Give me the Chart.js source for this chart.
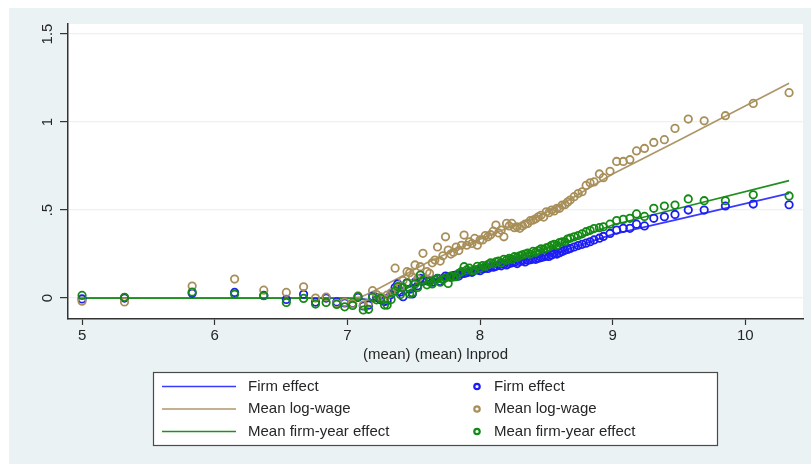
<!DOCTYPE html>
<html>
<head>
<meta charset="utf-8">
<script src="https://cdn.jsdelivr.net/npm/chart.js@4.4.1/dist/chart.umd.min.js"></script>
<style>
  html, body { margin: 0; padding: 0; background: #ffffff; }
  #wrap { width: 811px; height: 464px; position: relative; }
</style>
</head>
<body>
<div id="wrap"><canvas id="c" width="811" height="464"></canvas></div>
<script>
// Binned means by (mean) lnprod
const lnprod = [
  5.00, 5.32, 5.83, 6.15, 6.37, 6.54, 6.67, 6.76, 6.84, 6.92, 6.98, 7.04, 7.08,
  7.12, 7.16, 7.19, 7.22, 7.25, 7.28, 7.30, 7.33, 7.36, 7.38, 7.40, 7.42, 7.45,
  7.47, 7.49, 7.51, 7.53, 7.55, 7.57, 7.60, 7.62, 7.64, 7.66, 7.68, 7.70, 7.72,
  7.74, 7.76, 7.78, 7.80, 7.82, 7.84, 7.86, 7.88, 7.90, 7.92, 7.94, 7.96, 7.98,
  8.00, 8.02, 8.04, 8.06, 8.08, 8.10, 8.12, 8.14, 8.16, 8.18, 8.20, 8.22, 8.24,
  8.26, 8.28, 8.30, 8.32, 8.34, 8.36, 8.38, 8.40, 8.42, 8.44, 8.46, 8.48, 8.50,
  8.52, 8.54, 8.56, 8.58, 8.60, 8.62, 8.64, 8.66, 8.68, 8.71, 8.74, 8.77, 8.80,
  8.83, 8.86, 8.90, 8.93, 8.98, 9.03, 9.08, 9.13, 9.18, 9.24, 9.31, 9.39, 9.47,
  9.57, 9.69, 9.85, 10.06, 10.33
];
const firmEffect = [
  -0.005, 0.000, 0.027, 0.032, 0.015, -0.008, 0.022, -0.023, 0.000, -0.022, -0.028, -0.030, 0.004,
  -0.045, -0.040, 0.010, 0.004, -0.010, -0.020, -0.015, 0.020, 0.060, 0.080, 0.035, 0.008, 0.087,
  0.050, 0.023, 0.090, 0.070, 0.112, 0.095, 0.098, 0.100, 0.090, 0.105, 0.112, 0.095, 0.110,
  0.125, 0.121, 0.118, 0.128, 0.131, 0.125, 0.138, 0.140, 0.144, 0.150, 0.146, 0.159, 0.160,
  0.155, 0.165, 0.170, 0.168, 0.178, 0.175, 0.180, 0.188, 0.183, 0.192, 0.188, 0.196, 0.200,
  0.203, 0.196, 0.208, 0.212, 0.205, 0.215, 0.218, 0.222, 0.220, 0.226, 0.230, 0.234, 0.238,
  0.236, 0.245, 0.252, 0.250, 0.258, 0.265, 0.272, 0.276, 0.282, 0.290, 0.298, 0.305, 0.312,
  0.320, 0.330, 0.340, 0.350, 0.367, 0.386, 0.396, 0.396, 0.420, 0.410, 0.453, 0.462, 0.475,
  0.500, 0.500, 0.523, 0.534, 0.530
];
const meanLogWage = [
  -0.018, -0.022, 0.068, 0.108, 0.045, 0.032, 0.064, 0.000, 0.006, -0.030, -0.024, -0.032, 0.012,
  -0.040, -0.030, 0.042, 0.020, 0.007, -0.005, 0.017, 0.030, 0.170, 0.060, 0.064, 0.100, 0.150,
  0.144, 0.120, 0.188, 0.110, 0.178, 0.254, 0.150, 0.140, 0.200, 0.216, 0.290, 0.210, 0.240,
  0.348, 0.273, 0.250, 0.260, 0.290, 0.270, 0.300, 0.358, 0.300, 0.320, 0.310, 0.339, 0.300,
  0.330, 0.330, 0.355, 0.348, 0.360, 0.380, 0.415, 0.370, 0.386, 0.348, 0.424, 0.410, 0.424,
  0.400, 0.405, 0.396, 0.410, 0.420, 0.424, 0.440, 0.443, 0.450, 0.462, 0.470, 0.460, 0.490,
  0.485, 0.500, 0.495, 0.510, 0.510, 0.528, 0.530, 0.545, 0.557, 0.576, 0.594, 0.604, 0.640,
  0.655, 0.660, 0.705, 0.684, 0.720, 0.776, 0.776, 0.786, 0.836, 0.850, 0.884, 0.900, 0.964,
  1.017, 1.007, 1.036, 1.106, 1.167
];
const firmYearEffect = [
  0.015, 0.004, 0.034, 0.022, 0.013, -0.025, -0.002, -0.034, -0.025, -0.036, -0.050, -0.042, 0.008,
  -0.068, -0.064, 0.005, -0.010, -0.002, -0.040, -0.040, -0.008, 0.040, 0.065, 0.020, 0.060, 0.085,
  0.023, 0.030, 0.080, 0.060, 0.131, 0.100, 0.075, 0.093, 0.080, 0.102, 0.110, 0.090, 0.105,
  0.115, 0.083, 0.125, 0.120, 0.121, 0.140, 0.150, 0.178, 0.160, 0.170, 0.155, 0.159, 0.180,
  0.170, 0.185, 0.180, 0.190, 0.200, 0.195, 0.205, 0.210, 0.200, 0.220, 0.215, 0.225, 0.220,
  0.235, 0.230, 0.240, 0.245, 0.250, 0.255, 0.250, 0.265, 0.260, 0.270, 0.280, 0.275, 0.285,
  0.290, 0.300, 0.305, 0.300, 0.315, 0.320, 0.320, 0.335, 0.340, 0.348, 0.355, 0.365, 0.377,
  0.385, 0.395, 0.400, 0.405, 0.420, 0.440, 0.447, 0.453, 0.478, 0.464, 0.510, 0.523, 0.528,
  0.563, 0.553, 0.553, 0.587, 0.580
];

// Smoothed fits, evaluated at these lnprod values
const fitX = [5.00, 7.00, 7.10, 7.20, 7.40, 7.60, 7.80, 8.00, 8.20, 8.40, 8.60, 8.80, 9.00, 9.50, 10.33];
const firmFit = [0, 0, -0.005, -0.012, 0.055, 0.095, 0.130, 0.163, 0.195, 0.225, 0.262, 0.312, 0.362, 0.448, 0.595];
const wageFit = [0, 0, 0.005, 0.040, 0.120, 0.200, 0.270, 0.335, 0.395, 0.450, 0.525, 0.615, 0.705, 0.897, 1.220];
const firmYearFit = [0, 0, -0.005, -0.018, 0.045, 0.095, 0.140, 0.177, 0.220, 0.260, 0.305, 0.360, 0.415, 0.510, 0.667];

const xTicks = [5, 6, 7, 8, 9, 10];
const yTicks = [0, 0.5, 1, 1.5];
const yTickLabels = ['0', '.5', '1', '1.5'];
const seriesNames = ['Firm effect', 'Mean log-wage', 'Mean firm-year effect'];
const xTitle = '(mean) (mean) lnprod';

const colors = { firm: '#1c1cf5', wage: '#a88f5a', firmYear: '#148a14' };
const lineColors = { firm: '#3a3aff', wage: '#ad9768', firmYear: '#1f8f1f' };
const FONT = "'Liberation Sans', Arial, Helvetica, sans-serif";
const TEXT = '#262626';
const REGION_BG = '#eaf2f3';

const toPts = (xs, ys) => xs.map((x, i) => ({ x: x, y: ys[i] }));

function lineSet(label, ys, color, order) {
  return {
    type: 'line', label: label, data: toPts(fitX, ys),
    borderColor: color, borderWidth: 1.7, pointRadius: 0, fill: false,
    tension: 0, order: order
  };
}
function dotSet(label, ys, color, order) {
  return {
    type: 'scatter', label: label, data: toPts(lnprod, ys),
    borderColor: color, backgroundColor: 'rgba(0,0,0,0)', borderWidth: 1.8,
    pointRadius: 3.7, pointStyle: 'circle', order: order
  };
}

// Region backgrounds, y tick labels and the boxed legend
const decor = {
  id: 'decor',
  beforeDraw(chart) {
    const { ctx, chartArea: a } = chart;
    ctx.save();
    ctx.fillStyle = REGION_BG;
    ctx.fillRect(9, 8, 802, 456);
    ctx.fillStyle = '#ffffff';
    ctx.fillRect(a.left, a.top, a.right - a.left, a.bottom - a.top);
    ctx.restore();
  },
  afterDraw(chart) {
    const { ctx } = chart;
    const ys = chart.scales.y;
    ctx.save();
    ctx.fillStyle = TEXT;
    ctx.font = '15px ' + FONT;
    ctx.textAlign = 'center';
    ctx.textBaseline = 'middle';
    yTicks.forEach((v, i) => {
      const py = ys.getPixelForValue(v);
      ctx.save();
      ctx.translate(48, py);
      ctx.rotate(-Math.PI / 2);
      ctx.fillText(yTickLabels[i], 0, 0);
      ctx.restore();
    });

    // legend box
    const bx = 153, by = 372, bw = 564, bh = 73;
    ctx.fillStyle = '#ffffff';
    ctx.fillRect(bx, by, bw, bh);
    ctx.strokeStyle = '#4a4a4a';
    ctx.lineWidth = 1.2;
    ctx.strokeRect(bx + 0.5, by + 0.5, bw, bh);

    const rows = [386.5, 409, 431.5];
    const lc = [lineColors.firm, lineColors.wage, lineColors.firmYear];
    const pc = [colors.firm, colors.wage, colors.firmYear];
    ctx.font = '15px ' + FONT;
    ctx.textAlign = 'left';
    ctx.textBaseline = 'middle';
    rows.forEach((ry, i) => {
      ctx.strokeStyle = lc[i];
      ctx.lineWidth = 1.7;
      ctx.beginPath();
      ctx.moveTo(162, ry);
      ctx.lineTo(236, ry);
      ctx.stroke();
      ctx.fillStyle = TEXT;
      ctx.fillText(seriesNames[i], 248, ry);

      ctx.strokeStyle = pc[i];
      ctx.lineWidth = 2.2;
      ctx.beginPath();
      ctx.arc(477, ry, 2.7, 0, Math.PI * 2);
      ctx.stroke();
      ctx.fillStyle = TEXT;
      ctx.fillText(seriesNames[i], 494, ry);
    });
    ctx.restore();
  }
};

new Chart(document.getElementById('c'), {
  data: {
    datasets: [
      lineSet(seriesNames[0], firmFit, lineColors.firm, 5),
      lineSet(seriesNames[1], wageFit, lineColors.wage, 4),
      lineSet(seriesNames[2], firmYearFit, lineColors.firmYear, 3),
      dotSet(seriesNames[0], firmEffect, colors.firm, 2),
      dotSet(seriesNames[1], meanLogWage, colors.wage, 1),
      dotSet(seriesNames[2], firmYearEffect, colors.firmYear, 0)
    ]
  },
  options: {
    responsive: false,
    animation: false,
    events: [],
    layout: { padding: { left: 0, top: 24, right: 8, bottom: 0 } },
    plugins: { legend: { display: false }, tooltip: { enabled: false }, title: { display: false } },
    scales: {
      x: {
        type: 'linear', position: 'bottom',
        min: 4.894, max: 10.435,
        afterBuildTicks: (s) => { s.ticks = xTicks.map(v => ({ value: v })); },
        afterFit: (s) => { s.height = 145; },
        ticks: { color: TEXT, font: { family: FONT, size: 15 }, padding: 2, maxRotation: 0,
                 callback: (v) => String(v) },
        grid: { display: true, drawOnChartArea: false, color: 'rgba(0,0,0,0)',
                tickColor: '#333333', tickLength: 6, tickWidth: 1.2 },
        border: { display: true, color: '#333333', width: 1.5 },
        title: { display: true, text: xTitle, color: TEXT,
                 font: { family: FONT, size: 15 }, padding: { top: 0, bottom: 100 } }
      },
      y: {
        type: 'linear', position: 'left',
        min: -0.119, max: 1.557,
        afterBuildTicks: (s) => { s.ticks = yTicks.map(v => ({ value: v })); },
        afterFit: (s) => { s.width = 68; },
        ticks: { display: false },
        grid: { display: true, color: REGION_BG, lineWidth: 1.2,
                tickColor: '#333333', tickLength: 8, tickWidth: 1.2 },
        border: { display: true, color: '#333333', width: 1.5 }
      }
    }
  },
  plugins: [decor]
});
</script>
</body>
</html>
